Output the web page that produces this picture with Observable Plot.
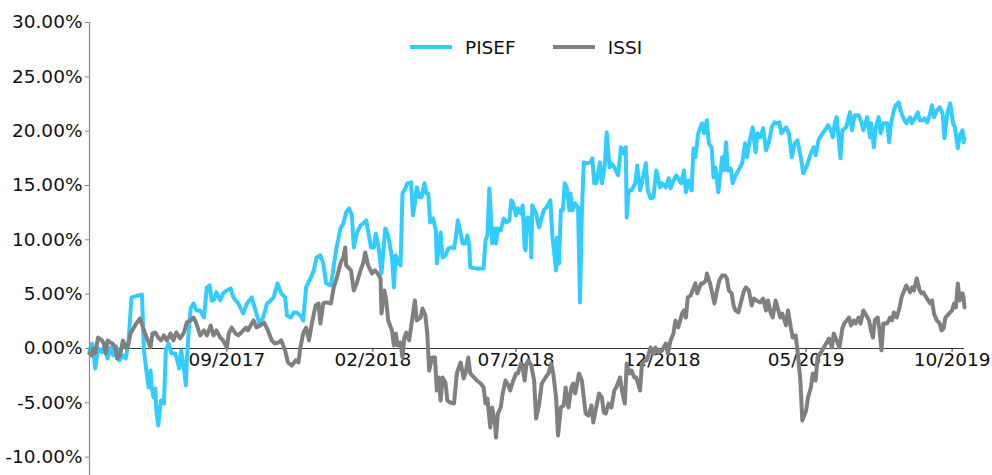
<!DOCTYPE html>
<html><head><meta charset="utf-8">
<script src="https://cdn.jsdelivr.net/npm/d3@7"></script>
<script src="https://cdn.jsdelivr.net/npm/@observablehq/plot@0.6"></script>
<style>
body{margin:0;background:#fff;font-family:"DejaVu Sans",sans-serif;}
#wrap{position:relative;width:992px;height:475px;}
#legend{position:absolute;top:37px;left:410px;display:flex;align-items:center;height:20px;font-size:18.5px;color:#111;}
.item{display:flex;align-items:center;margin-right:37px;}
.sw{display:inline-block;width:42px;height:4px;margin-right:13px;}
</style></head><body><div id="wrap"><div id="legend"></div></div>
<script>
const seriesNames = ["PISEF", "ISSI"];
const seriesColors = ["#33ccff", "#808080"];
const xTickDates = ["2017-09-01","2018-02-01","2018-07-01","2018-12-01","2019-05-01","2019-10-01"];
const xTickLabels = ["09/2017","02/2018","07/2018","12/2018","05/2019","10/2019"];
const yTicks = [-10,-5,0,5,10,15,20,25,30];

const pisefDates = ["2017-04-10","2017-04-13","2017-04-16","2017-04-19","2017-04-23","2017-04-26","2017-04-29","2017-05-02","2017-05-05","2017-05-08","2017-05-11","2017-05-15","2017-05-18","2017-05-21","2017-05-24","2017-05-28","2017-06-04","2017-06-06","2017-06-09","2017-06-11","2017-06-13","2017-06-14","2017-06-16","2017-06-18","2017-06-19","2017-06-21","2017-06-23","2017-06-24","2017-06-27","2017-06-29","2017-07-02","2017-07-05","2017-07-09","2017-07-11","2017-07-13","2017-07-15","2017-07-18","2017-07-20","2017-07-21","2017-07-23","2017-07-25","2017-07-28","2017-07-31","2017-08-04","2017-08-08","2017-08-11","2017-08-14","2017-08-16","2017-08-18","2017-08-21","2017-08-25","2017-08-28","2017-09-01","2017-09-05","2017-09-07","2017-09-10","2017-09-13","2017-09-18","2017-09-22","2017-09-27","2017-10-01","2017-10-05","2017-10-09","2017-10-13","2017-10-17","2017-10-20","2017-10-24","2017-10-28","2017-11-01","2017-11-03","2017-11-07","2017-11-10","2017-11-13","2017-11-17","2017-11-20","2017-11-23","2017-11-28","2017-12-01","2017-12-04","2017-12-08","2017-12-11","2017-12-14","2017-12-19","2017-12-22","2017-12-25","2017-12-29","2018-01-01","2018-01-04","2018-01-07","2018-01-10","2018-01-12","2018-01-15","2018-01-19","2018-01-22","2018-01-25","2018-01-30","2018-02-02","2018-02-04","2018-02-07","2018-02-10","2018-02-14","2018-02-17","2018-02-21","2018-02-23","2018-02-25","2018-02-28","2018-03-02","2018-03-04","2018-03-07","2018-03-09","2018-03-13","2018-03-15","2018-03-17","2018-03-19","2018-03-22","2018-03-24","2018-03-27","2018-03-29","2018-03-31","2018-04-02","2018-04-05","2018-04-08","2018-04-09","2018-04-11","2018-04-13","2018-04-15","2018-04-18","2018-04-21","2018-04-24","2018-04-27","2018-04-29","2018-05-01","2018-05-04","2018-05-06","2018-05-09","2018-05-11","2018-05-13","2018-05-14","2018-05-20","2018-05-28","2018-05-30","2018-06-01","2018-06-03","2018-06-04","2018-06-06","2018-06-09","2018-06-10","2018-06-12","2018-06-15","2018-06-18","2018-06-21","2018-06-24","2018-06-26","2018-06-28","2018-07-01","2018-07-03","2018-07-06","2018-07-08","2018-07-10","2018-07-11","2018-07-13","2018-07-16","2018-07-17","2018-07-18","2018-07-22","2018-07-25","2018-07-28","2018-07-30","2018-08-02","2018-08-06","2018-08-08","2018-08-12","2018-08-13","2018-08-15","2018-08-17","2018-08-19","2018-08-21","2018-08-23","2018-08-26","2018-08-27","2018-08-29","2018-09-01","2018-09-04","2018-09-06","2018-09-08","2018-09-10","2018-09-13","2018-09-17","2018-09-19","2018-09-21","2018-09-23","2018-09-27","2018-09-29","2018-10-02","2018-10-04","2018-10-07","2018-10-09","2018-10-12","2018-10-16","2018-10-19","2018-10-22","2018-10-24","2018-10-25","2018-10-27","2018-10-30","2018-11-03","2018-11-05","2018-11-08","2018-11-10","2018-11-14","2018-11-16","2018-11-19","2018-11-22","2018-11-25","2018-11-29","2018-12-01","2018-12-05","2018-12-08","2018-12-10","2018-12-13","2018-12-16","2018-12-21","2018-12-24","2018-12-26","2018-12-29","2019-01-01","2019-01-03","2019-01-05","2019-01-08","2019-01-12","2019-01-14","2019-01-17","2019-01-19","2019-01-22","2019-01-24","2019-01-26","2019-01-29","2019-02-02","2019-02-04","2019-02-06","2019-02-08","2019-02-11","2019-02-13","2019-02-16","2019-02-19","2019-02-23","2019-02-26","2019-02-28","2019-03-03","2019-03-06","2019-03-09","2019-03-11","2019-03-14","2019-03-17","2019-03-20","2019-03-23","2019-03-26","2019-03-29","2019-03-31","2019-04-03","2019-04-05","2019-04-10","2019-04-13","2019-04-16","2019-04-19","2019-04-22","2019-04-26","2019-04-28","2019-05-02","2019-05-06","2019-05-09","2019-05-11","2019-05-14","2019-05-17","2019-05-22","2019-05-24","2019-05-27","2019-05-29","2019-05-31","2019-06-02","2019-06-04","2019-06-06","2019-06-08","2019-06-12","2019-06-16","2019-06-18","2019-06-21","2019-06-25","2019-06-28","2019-06-30","2019-07-04","2019-07-07","2019-07-08","2019-07-11","2019-07-13","2019-07-16","2019-07-18","2019-07-21","2019-07-25","2019-07-27","2019-07-29","2019-08-01","2019-08-03","2019-08-06","2019-08-08","2019-08-11","2019-08-14","2019-08-18","2019-08-20","2019-08-23","2019-08-26","2019-08-28","2019-08-31","2019-09-02","2019-09-05","2019-09-08","2019-09-10","2019-09-12","2019-09-15","2019-09-18","2019-09-21","2019-09-23","2019-09-26","2019-09-29","2019-10-02","2019-10-04","2019-10-07","2019-10-09","2019-10-12","2019-10-13","2019-10-14"];
const pisefValues = [-0.18,0.46,-1.84,0,-0.37,0.28,-0.92,0.09,-0.64,0.18,-1.10,-0.64,-0.92,0.74,4.70,4.79,4.97,-0.18,-2.30,-3.59,-2.03,-3.41,-4.51,-3.68,-5.71,-7.09,-5.43,-4.79,-5.07,-0.18,0.46,-0.46,-0.46,-1.10,-1.84,-0.18,-1.84,-3.41,-1.10,1.66,3.68,4.14,3.50,3.50,2.85,5.62,5.80,4.42,4.42,5.16,4.42,5.07,5.34,5.53,4.88,4.42,4.14,3.22,4.14,4.70,3.50,2.30,2.85,4.14,4.42,4.70,5.99,5.07,4.70,3.04,2.85,3.32,3.32,3.04,2.58,5.62,6.54,7.18,8.38,8.57,7.83,5.99,5.80,7.64,9.30,11.05,11.51,12.53,12.89,12.25,9.30,10.59,11.33,11.51,11.79,9.30,9.30,10.59,9.30,6.91,11.05,10.41,8.38,5.62,8.57,7.83,7.64,14.27,14.73,15.20,15.29,12.25,13.35,14.83,13.91,13.91,15.20,14.27,14.27,11.60,11.97,10.87,7.83,9.30,10.68,8.38,8.57,9.21,9.30,9.21,10.22,11.79,10.59,9.67,9.67,10.41,9.49,7.46,7.37,7.37,9.95,10.41,14.73,13.35,9.67,11.05,9.67,11.05,10.87,11.97,11.60,11.79,13.63,13.35,12.25,12.89,12.43,13.17,9.30,9.02,12.06,11.97,8.38,13.17,12.43,11.14,12.06,12.71,12.99,13.63,10.41,7.18,10.22,7.83,12.71,12.71,15.20,14.83,12.71,14.27,12.71,13.35,12.99,4.24,12.43,17.13,17.04,17.13,17.50,15.20,15.20,17.13,15.20,16.85,19.89,16.67,17.04,16.67,15.93,18.51,17.96,18.51,12.06,14.55,14.55,15.20,16.85,14.55,15.29,17.04,14.55,13.81,13.91,16.39,14.83,15.20,14.83,15.66,14.74,15.47,15.93,15.20,16.39,14.37,15.47,14.55,18.42,17.59,19.80,20.72,19.80,21.00,18.88,18.51,15.75,16.67,14.37,17.59,16.39,18.97,16.39,16.58,15.20,15.93,16.39,17.04,18.88,17.59,19.16,20.35,18.05,19.80,19.43,20.26,18.24,18.97,20.35,20.81,20.72,20.81,19.80,20.35,19.80,17.59,18.88,19.16,17.31,16.12,16.85,17.96,18.51,17.78,19.16,19.62,20.26,20.54,20.08,19.43,20.72,21.28,19.43,17.50,20.08,20.35,21.74,20.08,21.46,21.46,20.81,20.08,21.28,19.43,20.72,18.51,20.35,21.28,19.80,20.72,20.72,18.97,20.72,21.92,22.38,22.66,21.92,21.18,20.72,21.28,20.72,21.18,21.74,21.00,21.00,21.18,20.81,21.64,22.38,21.28,21.92,22.20,21.64,19.34,21.64,22.56,20.72,20.35,18.42,19.62,20.08,18.97,19.34];

const issiDates = ["2017-04-10","2017-04-12","2017-04-14","2017-04-16","2017-04-19","2017-04-23","2017-04-25","2017-04-27","2017-04-29","2017-05-02","2017-05-04","2017-05-07","2017-05-09","2017-05-12","2017-05-15","2017-05-18","2017-05-20","2017-05-23","2017-05-26","2017-05-29","2017-06-02","2017-06-05","2017-06-08","2017-06-10","2017-06-13","2017-06-15","2017-06-18","2017-06-21","2017-06-24","2017-06-27","2017-06-30","2017-07-04","2017-07-07","2017-07-10","2017-07-14","2017-07-18","2017-07-21","2017-07-25","2017-07-28","2017-07-31","2017-08-04","2017-08-08","2017-08-11","2017-08-15","2017-08-18","2017-08-21","2017-08-25","2017-08-28","2017-09-01","2017-09-03","2017-09-06","2017-09-10","2017-09-13","2017-09-16","2017-09-21","2017-09-23","2017-09-27","2017-09-29","2017-10-02","2017-10-06","2017-10-10","2017-10-14","2017-10-18","2017-10-21","2017-10-25","2017-10-28","2017-11-01","2017-11-04","2017-11-08","2017-11-12","2017-11-15","2017-11-17","2017-11-20","2017-11-23","2017-11-26","2017-11-29","2017-12-03","2017-12-06","2017-12-08","2017-12-11","2017-12-14","2017-12-19","2017-12-22","2017-12-25","2017-12-29","2018-01-01","2018-01-03","2018-01-04","2018-01-09","2018-01-12","2018-01-15","2018-01-19","2018-01-22","2018-01-24","2018-01-27","2018-01-31","2018-02-03","2018-02-06","2018-02-09","2018-02-10","2018-02-13","2018-02-15","2018-02-17","2018-02-21","2018-02-23","2018-02-25","2018-02-27","2018-03-02","2018-03-04","2018-03-06","2018-03-08","2018-03-11","2018-03-14","2018-03-17","2018-03-19","2018-03-23","2018-03-25","2018-03-28","2018-03-30","2018-04-01","2018-04-04","2018-04-07","2018-04-09","2018-04-11","2018-04-13","2018-04-15","2018-04-18","2018-04-20","2018-04-23","2018-04-27","2018-04-30","2018-05-02","2018-05-04","2018-05-07","2018-05-09","2018-05-12","2018-05-14","2018-05-18","2018-05-21","2018-05-25","2018-05-28","2018-05-30","2018-06-01","2018-06-04","2018-06-06","2018-06-09","2018-06-10","2018-06-12","2018-06-15","2018-06-17","2018-06-20","2018-06-22","2018-06-25","2018-06-27","2018-07-01","2018-07-03","2018-07-06","2018-07-08","2018-07-10","2018-07-12","2018-07-14","2018-07-17","2018-07-20","2018-07-22","2018-07-25","2018-07-28","2018-08-01","2018-08-04","2018-08-07","2018-08-09","2018-08-12","2018-08-14","2018-08-17","2018-08-20","2018-08-22","2018-08-25","2018-08-28","2018-08-30","2018-09-01","2018-09-05","2018-09-08","2018-09-10","2018-09-12","2018-09-15","2018-09-18","2018-09-20","2018-09-22","2018-09-26","2018-09-29","2018-10-01","2018-10-03","2018-10-06","2018-10-09","2018-10-12","2018-10-14","2018-10-18","2018-10-20","2018-10-23","2018-10-25","2018-10-28","2018-10-30","2018-11-02","2018-11-04","2018-11-08","2018-11-10","2018-11-13","2018-11-15","2018-11-19","2018-11-22","2018-11-24","2018-11-27","2018-12-01","2018-12-05","2018-12-07","2018-12-10","2018-12-13","2018-12-15","2018-12-18","2018-12-22","2018-12-24","2018-12-26","2018-12-28","2018-12-31","2019-01-05","2019-01-07","2019-01-11","2019-01-13","2019-01-16","2019-01-17","2019-01-20","2019-01-22","2019-01-25","2019-01-27","2019-01-30","2019-02-02","2019-02-05","2019-02-07","2019-02-09","2019-02-12","2019-02-14","2019-02-16","2019-02-19","2019-02-23","2019-02-25","2019-02-27","2019-03-02","2019-03-05","2019-03-07","2019-03-10","2019-03-14","2019-03-17","2019-03-20","2019-03-22","2019-03-25","2019-03-27","2019-03-30","2019-04-01","2019-04-04","2019-04-06","2019-04-10","2019-04-12","2019-04-15","2019-04-17","2019-04-20","2019-04-22","2019-04-25","2019-04-27","2019-05-01","2019-05-03","2019-05-06","2019-05-08","2019-05-11","2019-05-13","2019-05-16","2019-05-19","2019-05-22","2019-05-25","2019-05-28","2019-05-30","2019-06-02","2019-06-05","2019-06-08","2019-06-10","2019-06-15","2019-06-17","2019-06-20","2019-06-22","2019-06-25","2019-06-27","2019-06-30","2019-07-02","2019-07-06","2019-07-08","2019-07-10","2019-07-12","2019-07-15","2019-07-17","2019-07-19","2019-07-21","2019-07-25","2019-07-28","2019-07-30","2019-08-01","2019-08-04","2019-08-07","2019-08-09","2019-08-11","2019-08-14","2019-08-18","2019-08-20","2019-08-22","2019-08-25","2019-08-28","2019-08-30","2019-09-01","2019-09-04","2019-09-08","2019-09-10","2019-09-12","2019-09-15","2019-09-18","2019-09-20","2019-09-22","2019-09-24","2019-09-28","2019-10-01","2019-10-03","2019-10-05","2019-10-07","2019-10-09","2019-10-12","2019-10-13","2019-10-14"];
const issiValues = [-0.46,-0.64,0,-0.46,1.01,0.74,0.46,-0.46,0.74,0.55,0.46,0.09,-0.92,-0.64,0.74,0.09,0.09,1.38,1.84,2.30,2.76,1.93,1.20,0.74,0.09,1.38,1.47,1.01,0.74,1.20,0.74,1.38,0.74,1.47,0.92,1.47,2.39,2.58,2.85,2.30,1.20,1.66,1.20,2.12,1.20,1.66,1.01,0.74,0.09,1.38,1.93,1.38,1.20,1.47,1.93,1.66,2.30,2.58,1.93,2.12,2.39,1.66,0.74,0.46,0.55,0.74,-0.18,-1.29,-1.57,-1.10,-1.29,0.09,1.38,1.93,0.74,2.30,3.96,4.14,2.30,4.14,4.24,4.14,5.62,6.45,7.83,8.38,9.30,7.64,7.18,5.34,5.99,7.18,7.92,8.84,7.64,6.91,7.18,6.91,6.45,3.22,5.34,4.42,2.58,1.66,0.28,1.38,0.28,0.55,-0.83,1.01,1.47,0.74,2.58,4.42,2.58,2.85,3.68,3.04,1.38,-2.03,-0.83,-0.83,-3.87,-2.67,-4.79,-2.67,-3.13,-4.79,-4.97,-5.07,-2.30,-1.75,-1.29,-2.76,-2.30,-0.83,-2.30,-2.67,-2.95,-3.22,-3.59,-5.07,-4.60,-7.27,-5.43,-6.91,-8.20,-5.99,-5.43,-4.14,-2.95,-3.22,-3.87,-3.22,-2.30,-2.30,-1.38,-1.75,-2.95,-1.38,-1.10,-1.57,-2.95,-6.45,-5.25,-3.22,-2.67,-2.30,-1.38,-2.30,-4.51,-8.01,-5.43,-5.25,-3.59,-5.43,-3.59,-3.22,-4.14,-2.30,-2.95,-4.51,-5.99,-6.17,-5.25,-6.81,-5.89,-4.14,-4.51,-5.89,-5.99,-5.07,-5.43,-3.87,-3.59,-2.67,-3.87,-5.07,-1.38,-2.30,-2.03,-2.67,-2.67,-3.87,-1.38,-1.10,-1.10,0.09,-0.46,0.09,-0.37,-0.18,0.46,-0.46,0.74,1.38,2.58,1.93,3.22,3.50,2.85,4.70,4.88,5.99,5.07,5.99,5.99,6.26,6.91,6.08,5.34,4.14,5.07,6.26,6.72,6.72,6.45,5.34,5.07,3.96,3.50,3.32,4.70,5.34,5.62,5.34,3.96,4.60,4.42,4.24,4.60,3.50,4.42,3.22,2.85,4.42,3.78,2.85,3.22,2.12,3.50,1.93,1.01,1.20,-0.18,-2.95,-6.63,-5.71,-4.51,-3.59,-2.30,-2.95,-0.83,-0.46,0,0.46,0.92,0.09,1.38,0.74,0.09,1.84,2.30,2.85,2.12,2.58,2.30,2.85,2.30,3.50,3.22,2.58,1.66,1.01,2.58,2.85,1.66,-0.18,2.30,2.30,2.85,2.58,3.32,2.85,3.78,4.70,5.16,5.80,5.16,5.62,5.34,6.45,5.34,5.07,5.16,4.70,4.14,4.42,3.22,2.58,2.30,1.66,1.84,2.85,3.22,3.50,4.14,3.78,5.99,4.42,5.07,4.70,3.78];

const parse = d3.utcParse("%Y-%m-%d");
const rows = [];
[[pisefDates, pisefValues, seriesNames[0]], [issiDates, issiValues, seriesNames[1]]].forEach(([ds, vs, name]) => {
  const n = Math.min(ds.length, vs.length);
  for (let i = 0; i < n; i++) rows.push({series: name, date: parse(ds[i]), value: vs[i]});
});
const xDomain = d3.extent(rows, d => d.date);
const ticks = xTickDates.map((d, i) => ({date: parse(d), label: xTickLabels[i]}));

const chart = Plot.plot({
  width: 992, height: 475,
  marginLeft: 89, marginRight: 28, marginTop: 22, marginBottom: 0,
  style: {fontFamily: "DejaVu Sans, sans-serif", fontSize: "18.5px", color: "#111", background: "white", overflow: "visible"},
  x: {type: "utc", domain: xDomain, axis: null},
  y: {domain: [-11.69, 30], axis: null},
  color: {domain: seriesNames, range: seriesColors},
  marks: [
    Plot.ruleY([0], {stroke: "#333", strokeWidth: 1}),
    Plot.ruleX(ticks, {x: "date", y1: () => 0, y2: () => -0.35, stroke: "#333", strokeWidth: 1}),
    Plot.text(ticks, {x: "date", y: () => 0, text: "label", dy: 4, lineAnchor: "top", textAnchor: "middle", fontSize: 18.5, fill: "#111"}),
    Plot.line(rows, {x: "date", y: "value", z: "series", stroke: "series", strokeWidth: 4, strokeLinejoin: "round"}),
    Plot.ruleX([xDomain[0]], {y1: -11.69, y2: 30, stroke: "#888", strokeWidth: 1.2}),
    Plot.axisY(yTicks, {label: null, tickSize: 4, tickPadding: 3, tickFormat: d => d.toFixed(2) + "%", fontSize: 18.5, stroke: "#888", fill: "#111"})
  ]
});
document.getElementById("wrap").prepend(chart);

const legend = document.getElementById("legend");
seriesNames.forEach((name, i) => {
  const item = document.createElement("div");
  item.className = "item";
  const sw = document.createElement("span");
  sw.className = "sw";
  sw.style.background = seriesColors[i];
  const label = document.createElement("span");
  label.textContent = name;
  item.append(sw, label);
  legend.append(item);
});
</script>
</body></html>
